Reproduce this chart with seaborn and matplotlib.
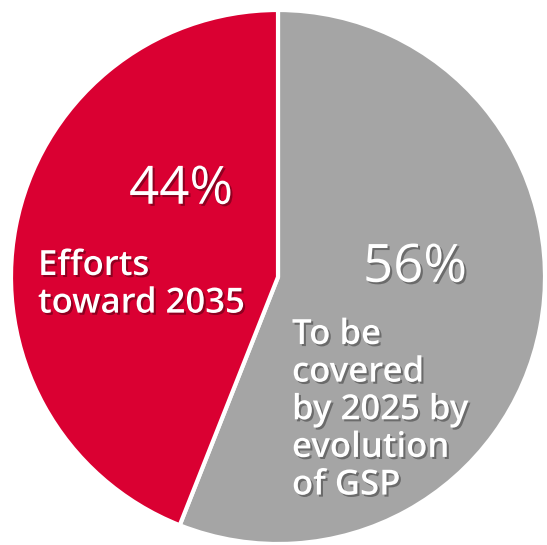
import matplotlib
matplotlib.use("Agg")
import matplotlib.pyplot as plt
import matplotlib.patheffects as pe
import seaborn as sns

categories = ["To be covered by 2025 by evolution of GSP", "Efforts toward 2035"]
values = [56, 44]
pct_labels = ["56%", "44%"]
desc_labels = ["To be\ncovered\nby 2025 by\nevolution\nof GSP", "Efforts\ntoward 2035"]
colors = ["#A5A5A5", "#DA0032"]

sns.set_theme(style="white")
plt.rcParams['font.family'] = ['Open Sans', 'DejaVu Sans']

W, H = 547, 545
fig = plt.figure(figsize=(W / 100, H / 100), dpi=100)
ax = fig.add_axes([0, 0, 1, 1])

cx, cy, r = 278, H - 277, 267
ax.pie(values, colors=colors, startangle=90, counterclock=False,
       center=(cx, cy), radius=r, frame=True,
       wedgeprops=dict(edgecolor='white', linewidth=3))
ax.set_xlim(0, W)
ax.set_ylim(0, H)
ax.set_aspect('equal')
ax.axis('off')

shadow = [pe.SimplePatchShadow(offset=(1.5, -1.5), shadow_rgbFace='black', alpha=0.35), pe.Normal()]

# percentage labels
ax.text(415, H - 268, pct_labels[0], color='white', fontsize=38, ha='center', va='center',
        path_effects=shadow)
ax.text(181, H - 190, pct_labels[1], color='white', fontsize=38, ha='center', va='center',
        path_effects=shadow)

# description labels
ax.text(38, H - 249, desc_labels[1], color='white', fontsize=25, fontweight='semibold',
        ha='left', va='top', linespacing=1.14, path_effects=shadow)
ax.text(292, H - 318, desc_labels[0], color='white', fontsize=25, fontweight='semibold',
        ha='left', va='top', linespacing=1.14, path_effects=shadow)

fig.savefig("out.png", dpi=100)
